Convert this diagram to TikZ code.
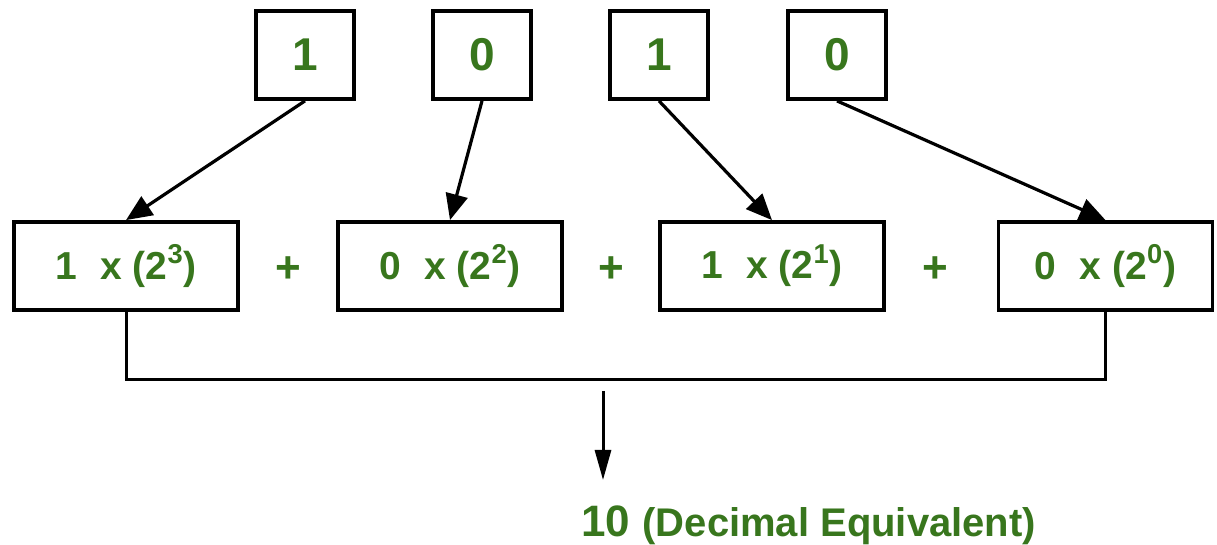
\documentclass[tikz,border=0pt]{standalone}
\usepackage{fontspec}
\setmainfont{Liberation Sans}
\usetikzlibrary{arrows.meta}
\definecolor{dgreen}{HTML}{38761D}
\begin{document}
\begin{tikzpicture}[x=0.5pt,y=-0.5pt,
  topbox/.style={draw=black,line width=1.9pt,minimum width=49pt,minimum height=44pt,inner sep=0pt,
    text=dgreen,font=\fontsize{23}{26}\selectfont\bfseries},
  midbox/.style={draw=black,line width=1.9pt,minimum width=112pt,minimum height=44pt,inner sep=0pt,
    text=dgreen,font=\fontsize{19.5}{22}\selectfont\bfseries},
  plus/.style={text=dgreen,font=\fontsize{22}{24}\selectfont\bfseries,inner sep=0pt},
  arr/.style={line width=1.6pt,-{Triangle[length=13pt,width=11pt]}},
  bracket/.style={line width=1.5pt}
]
\useasboundingbox (0,0) rectangle (1217,545);
% top digits
\node[topbox] (t1) at (305,55) {1};
\node[topbox] (t2) at (482,55) {0};
\node[topbox] (t3) at (659,55) {1};
\node[topbox] (t4) at (837,55) {0};
% products
\node[midbox] (m1) at (126,266) {1\hspace{0.6em}x (2\textsuperscript{3})};
\node[midbox] (m2) at (450,266) {0\hspace{0.6em}x (2\textsuperscript{2})};
\node[midbox] (m3) at (772,266) {1\hspace{0.6em}x (2\textsuperscript{1})};
\node[midbox,minimum width=107pt] (m4) at (1105.5,266) {0\hspace{0.6em}x (2\textsuperscript{0})};
% plus signs
\node[plus] (p1) at (288,270) {+};
\node[plus] (p2) at (611,270) {+};
\node[plus] (p3) at (935,270) {+};
% arrows
\draw[arr] (t1.south) -- (m1.north);
\draw[arr] (t2.south) -- (m2.north);
\draw[arr] (t3.south) -- (m3.north);
\draw[arr] (t4.south) -- (m4.north);
% bracket
\coordinate (bl) at (126,380);
\draw[bracket] (m1.south) -- (m1.south |- bl) -| (m4.south);
% result arrow
\coordinate (a0) at (603,391);
\coordinate (a1) at (603,480);
\draw[line width=1.5pt,-{Triangle[length=15pt,width=8pt]}] (a0) -- (a1);
\node[text=dgreen,font=\bfseries,inner sep=0pt,anchor=base west] (res) at (581,537)
  {\fontsize{22}{24}\selectfont 10 \fontsize{20}{22}\selectfont(Decimal Equivalent)};
\end{tikzpicture}
\end{document}
